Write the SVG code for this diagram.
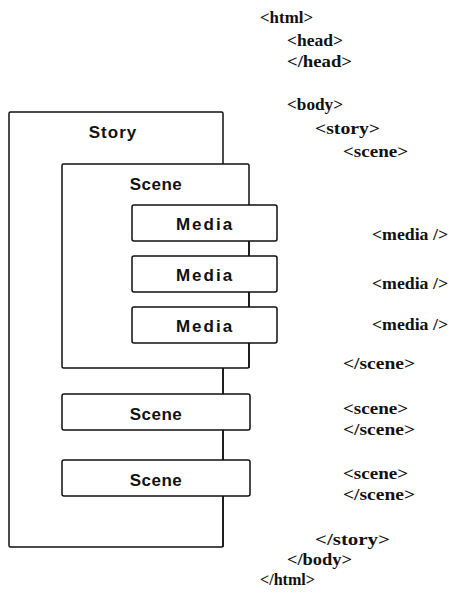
<svg xmlns="http://www.w3.org/2000/svg" width="458" height="592" viewBox="0 0 458 592">
  <style>
    .box { fill: #fff; stroke: #111; stroke-width: 1.5; }
    .lbl { font-family: "Liberation Sans", Arial, sans-serif; font-weight: bold; font-size: 17px; fill: #111; text-anchor: middle; }
    .media { letter-spacing: 2px; }
    .code { font-family: "Liberation Serif", "Times New Roman", serif; font-weight: bold; font-size: 16px; fill: #111; }
  </style>
  <rect width="458" height="592" fill="#fff"/>

  <!-- containment diagram -->
  <g id="story">
    <rect class="box" x="9" y="112" width="214" height="435" rx="1.5"/>
    <text class="lbl" x="113" y="138" letter-spacing="1">Story</text>
  </g>
  <g id="scene1">
    <rect class="box" x="62" y="164" width="187" height="204" rx="1.5"/>
    <text class="lbl" x="156" y="190" letter-spacing="0.5">Scene</text>
  </g>
  <g id="media1">
    <rect class="box" x="132" y="205" width="145" height="36" rx="2"/>
    <text class="lbl media" x="205" y="230">Media</text>
  </g>
  <g id="media2">
    <rect class="box" x="132" y="256" width="145" height="36" rx="2"/>
    <text class="lbl media" x="205" y="281">Media</text>
  </g>
  <g id="media3">
    <rect class="box" x="132" y="307" width="145" height="36" rx="2"/>
    <text class="lbl media" x="205" y="332">Media</text>
  </g>
  <g id="scene2">
    <rect class="box" x="62" y="394" width="188" height="36" rx="2"/>
    <text class="lbl" x="156" y="420" letter-spacing="0.5">Scene</text>
  </g>
  <g id="scene3">
    <rect class="box" x="62" y="460" width="188" height="36" rx="2"/>
    <text class="lbl" x="156" y="486" letter-spacing="0.5">Scene</text>
  </g>

  <!-- the vertical links between stacked boxes are the container edges -->
  <g id="connectors" stroke="#111" stroke-width="1.5" fill="none">
    <line x1="249" y1="241" x2="249" y2="256"/>
    <line x1="249" y1="292" x2="249" y2="307"/>
    <line x1="249" y1="343" x2="249" y2="368"/>
    <line x1="223" y1="368" x2="223" y2="394"/>
    <line x1="223" y1="430" x2="223" y2="460"/>
    <line x1="223" y1="496" x2="223" y2="547"/>
  </g>

  <!-- markup listing -->
  <g id="markup" class="code">
    <text x="260" y="23" textLength="53" lengthAdjust="spacingAndGlyphs">&lt;html&gt;</text>
    <text x="287" y="46" textLength="56" lengthAdjust="spacingAndGlyphs">&lt;head&gt;</text>
    <text x="287" y="67" textLength="65" lengthAdjust="spacingAndGlyphs">&lt;/head&gt;</text>
    <text x="287" y="110" textLength="56" lengthAdjust="spacingAndGlyphs">&lt;body&gt;</text>
    <text x="315" y="134" textLength="65" lengthAdjust="spacingAndGlyphs">&lt;story&gt;</text>
    <text x="343" y="157" textLength="65" lengthAdjust="spacingAndGlyphs">&lt;scene&gt;</text>
    <text x="372" y="240" textLength="76" lengthAdjust="spacingAndGlyphs">&lt;media /&gt;</text>
    <text x="372" y="289" textLength="76" lengthAdjust="spacingAndGlyphs">&lt;media /&gt;</text>
    <text x="372" y="330" textLength="76" lengthAdjust="spacingAndGlyphs">&lt;media /&gt;</text>
    <text x="343" y="369" textLength="72" lengthAdjust="spacingAndGlyphs">&lt;/scene&gt;</text>
    <text x="343" y="414" textLength="65" lengthAdjust="spacingAndGlyphs">&lt;scene&gt;</text>
    <text x="343" y="435" textLength="72" lengthAdjust="spacingAndGlyphs">&lt;/scene&gt;</text>
    <text x="343" y="479" textLength="65" lengthAdjust="spacingAndGlyphs">&lt;scene&gt;</text>
    <text x="343" y="500" textLength="72" lengthAdjust="spacingAndGlyphs">&lt;/scene&gt;</text>
    <text x="315" y="545" textLength="75" lengthAdjust="spacingAndGlyphs">&lt;/story&gt;</text>
    <text x="287" y="565" textLength="65" lengthAdjust="spacingAndGlyphs">&lt;/body&gt;</text>
    <text x="260" y="585" textLength="55" lengthAdjust="spacingAndGlyphs">&lt;/html&gt;</text>
  </g>
</svg>
